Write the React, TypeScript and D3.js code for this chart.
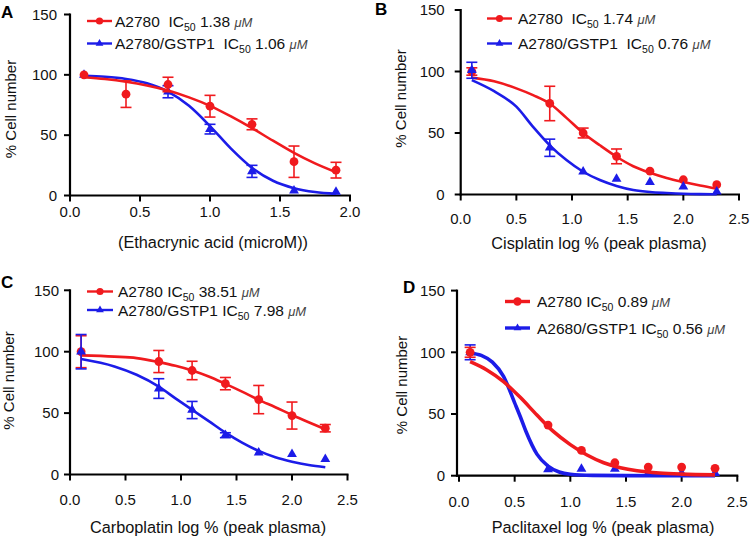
import React from "react";
import * as d3 from "d3";

const RED = "#f01a1e";
const BLUE = "#1c1ce8";
const FONT = "'Liberation Sans', Arial, Helvetica, sans-serif";

// ---------- Shared ticks ----------
const yTicks = [0, 50, 100, 150];
const xTicksA = [0, 0.5, 1, 1.5, 2];
const xTicksBCD = [0, 0.5, 1, 1.5, 2, 2.5];

// ---------- Panel A: Ethacrynic acid ----------
const aRedX = [0.1, 0.4, 0.7, 1.0, 1.3, 1.6, 1.9];
const aRedY = [100, 84, 92, 74, 59, 28, 21];
const aRedErr = [0, 11, 6, 9, 4.5, 13, 6.5];
const aBlueX = [0.1, 0.7, 1.0, 1.3, 1.6, 1.9];
const aBlueY = [100, 86, 55, 20, 4, 3];
const aBlueErr = [0, 5, 4, 5, 0, 0];
const aFitX = [0.1, 0.25, 0.4, 0.55, 0.7, 0.85, 1.0, 1.15, 1.3, 1.45, 1.6, 1.75, 1.9];
const aFitRed = [98, 96.5, 94.3, 91.2, 87, 81.3, 74.3, 65.5, 55.8, 45.4, 35.3, 26.6, 19.3];
const aFitBlue = [99.2, 98.4, 96.6, 93, 86.1, 74.3, 57.5, 38.8, 22.9, 12.2, 6.1, 2.9, 1.4];

// ---------- Panel B: Cisplatin ----------
const doseX = [0.1, 0.8, 1.1, 1.4, 1.7, 2.0, 2.3];
const bRedY = [100, 74, 50, 31, 19, 12, 8];
const bRedErr = [3, 14, 4, 6, 0, 0, 0];
const bBlueY = [101, 38, 18.5, 12.6, 10, 6.3, 2.3];
const bBlueErr = [6.5, 7, 0, 0, 0, 0, 0];
const bFitX = [0.1, 0.3, 0.5, 0.65, 0.8, 0.95, 1.1, 1.25, 1.4, 1.55, 1.7, 1.85, 2.0, 2.15, 2.3];
const bFitRed = [95, 92, 86.3, 80.8, 74, 62.3, 50, 40, 30.7, 23, 17.7, 13.5, 10.2, 7.3, 4.8];
const bFitBlue = [93, 84, 71.4, 55, 40, 28, 18.5, 11.8, 7, 3.7, 2, 1.2, 0.6, 0.3, 0.2];

// ---------- Panel C: Carboplatin ----------
const cRedY = [100, 92, 84.7, 74, 61, 48, 37.7];
const cRedErr = [13, 9, 7.5, 5, 11.5, 11, 3];
const cBlueY = [100, 70, 52.5, 32, 17.8, 16.5, 12.4];
const cBlueErr = [14, 8, 7, 2, 0, 0, 0];
const cFitX = [0.1, 0.4, 0.6, 0.8, 0.95, 1.1, 1.25, 1.4, 1.55, 1.7, 1.85, 2.0, 2.15, 2.3];
const cFitRed = [97, 96, 94.8, 91.5, 88.5, 84.7, 79.8, 73.8, 67.5, 60.8, 54.8, 48.5, 42.6, 36.9];
const cFitBlue = [94, 88, 81.2, 71.6, 62, 52.7, 43.5, 34.1, 26, 19.2, 14, 10.4, 7.7, 5.9];

// ---------- Panel D: Paclitaxel ----------
const dRedY = [100, 41, 20.5, 10.5, 7, 7, 6];
const dRedErr = [4, 0, 0, 0, 0, 0, 0];
const dBlueY = [100, 5, 5.5, 5.5, 2, 2, 2];
const dBlueErr = [6, 0, 0, 0, 0, 0, 0];
const dFitRedX = [0.1, 0.25, 0.4, 0.55, 0.7, 0.85, 1.0, 1.15, 1.3, 1.45, 1.6, 1.8, 2.0, 2.3];
const dFitRed = [92.4, 85.7, 76.2, 63.5, 49.2, 35.7, 25.2, 16.8, 10.5, 6.5, 4, 2.2, 1.3, 0.7];
const dFitBlueX = [0.1, 0.2, 0.3, 0.4, 0.5, 0.55, 0.6, 0.7, 0.8, 0.9, 1.0, 1.2, 1.5, 2.3];
const dFitBlue = [99.5, 97.5, 92, 80.5, 59, 48, 36.2, 17.5, 7.8, 3, 1.2, 0.3, 0.05, 0];

// ---------- Labels ----------
const panelLetters = ["A", "B", "C", "D"];
const xTitles = [
  "(Ethacrynic acid (microM))",
  "Cisplatin log % (peak plasma)",
  "Carboplatin log % (peak plasma)",
  "Paclitaxel log % (peak plasma)",
];
const yTitle = "% Cell number";
const redNames = ["A2780  IC", "A2780  IC", "A2780 IC", "A2780 IC"];
const blueNames = ["A2780/GSTP1  IC", "A2780/GSTP1  IC", "A2780/GSTP1 IC", "A2680/GSTP1 IC"];
const redIC50 = ["1.38", "1.74", "38.51", "0.89"];
const blueIC50 = ["1.06", "0.76", "7.98", "0.56"];

type Series = { x: number[]; y: number[]; err: number[]; fx: number[]; fy: number[] };

type Layout = {
  x0: number; x1: number; xMax: number; y0: number; y150: number;
  axisX: number; xTicks: number[]; xLabDy: number; yLabGap: number;
  titleX: number; titleY: number; yTitleX: number; yTitleY: number;
  letterX: number; letterY: number;
  legX1: number; legX2: number; legY1: number; legY2: number; legTextX: number;
  curveW: number; legW: number; legR: number; blueOnTop: boolean;
};

const layouts: Layout[] = [
  { x0: 70, x1: 350, xMax: 2, y0: 195.5, y150: 14.5, axisX: 70, xTicks: xTicksA, xLabDy: 21.5, yLabGap: 13,
    titleX: 213, titleY: 248, yTitleX: 10, yTitleY: 109, letterX: 1, letterY: 18,
    legX1: 87, legX2: 112, legY1: 21, legY2: 43.5, legTextX: 115, curveW: 2.6, legW: 2.4, legR: 3.6, blueOnTop: false },
  { x0: 460.7, x1: 739, xMax: 2.5, y0: 194.5, y150: 10, axisX: 460.7, xTicks: xTicksBCD, xLabDy: 29, yLabGap: 16,
    titleX: 599, titleY: 248.5, yTitleX: 400, yTitleY: 98.5, letterX: 375, letterY: 15,
    legX1: 487, legX2: 512, legY1: 18.5, legY2: 43.5, legTextX: 518, curveW: 2.6, legW: 2.4, legR: 3.6, blueOnTop: true },
  { x0: 70, x1: 347.5, xMax: 2.5, y0: 474.5, y150: 290.3, axisX: 70, xTicks: xTicksBCD, xLabDy: 30, yLabGap: 11,
    titleX: 208, titleY: 533, yTitleX: 8.5, yTitleY: 380.5, letterX: 1, letterY: 288,
    legX1: 87, legX2: 113, legY1: 291.5, legY2: 310, legTextX: 118, curveW: 2.6, legW: 2.4, legR: 3.6, blueOnTop: true },
  { x0: 459, x1: 737.3, xMax: 2.5, y0: 475.7, y150: 290.6, axisX: 457, xTicks: xTicksBCD, xLabDy: 31, yLabGap: 12,
    titleX: 603, titleY: 533, yTitleX: 401.5, yTitleY: 385, letterX: 403, letterY: 293,
    legX1: 505, legX2: 530, legY1: 301.5, legY2: 328, legTextX: 537, curveW: 3.6, legW: 3.4, legR: 4.2, blueOnTop: false },
];

const redSeries: Series[] = [
  { x: aRedX, y: aRedY, err: aRedErr, fx: aFitX, fy: aFitRed },
  { x: doseX, y: bRedY, err: bRedErr, fx: bFitX, fy: bFitRed },
  { x: doseX, y: cRedY, err: cRedErr, fx: cFitX, fy: cFitRed },
  { x: doseX, y: dRedY, err: dRedErr, fx: dFitRedX, fy: dFitRed },
];
const blueSeries: Series[] = [
  { x: aBlueX, y: aBlueY, err: aBlueErr, fx: aFitX, fy: aFitBlue },
  { x: doseX, y: bBlueY, err: bBlueErr, fx: bFitX, fy: bFitBlue },
  { x: doseX, y: cBlueY, err: cBlueErr, fx: cFitX, fy: cFitBlue },
  { x: doseX, y: dBlueY, err: dBlueErr, fx: dFitBlueX, fy: dFitBlue },
];

const triPath = d3.symbol().type(d3.symbolTriangle).size(42)() as string;
const triSmall = d3.symbol().type(d3.symbolTriangle).size(26)() as string;

function SeriesMarks({ s, color, tri, xs, ys, lw }: { s: Series; color: string; tri: boolean; xs: d3.ScaleLinear<number, number>; ys: d3.ScaleLinear<number, number>; lw: number }) {
  const line = d3
    .line<number>()
    .x((_, i) => xs(s.fx[i]))
    .y((d) => ys(d))
    .curve(d3.curveMonotoneX);
  return (
    <g>
      <path d={line(s.fy) || ""} fill="none" stroke={color} strokeWidth={lw} strokeLinejoin="round" />
      {s.x.map((x, i) => {
        const cx = xs(x);
        const cy = ys(s.y[i]);
        const e = s.err[i];
        return (
          <g key={i}>
            {e > 0 && (
              <g stroke={color} strokeWidth={1.6}>
                <line x1={cx} x2={cx} y1={ys(s.y[i] + e)} y2={ys(s.y[i] - e)} />
                <line x1={cx - 5.5} x2={cx + 5.5} y1={ys(s.y[i] + e)} y2={ys(s.y[i] + e)} />
                <line x1={cx - 5.5} x2={cx + 5.5} y1={ys(s.y[i] - e)} y2={ys(s.y[i] - e)} />
              </g>
            )}
            {tri ? (
              <path d={triPath} transform={`translate(${cx},${cy})`} fill={color} />
            ) : (
              <circle cx={cx} cy={cy} r={4.4} fill={color} />
            )}
          </g>
        );
      })}
    </g>
  );
}

function LegendText({ x, y, name, ic }: { x: number; y: number; name: string; ic: string }) {
  return (
    <text x={x} y={y + 5.5} fontSize={15.5} fontFamily={FONT} fill="#111" style={{ whiteSpace: "pre" }}>
      <tspan>{name}</tspan>
      <tspan fontSize={10.5} dy={4}>50</tspan>
      <tspan dy={-4}>{" " + ic + " "}</tspan>
      <tspan fontStyle="italic" fontSize={13} fill="#444">μM</tspan>
    </text>
  );
}

function Panel({ idx }: { idx: number }) {
  const L = layouts[idx];
  const xs = d3.scaleLinear().domain([0, L.xMax]).range([L.x0, L.x1]);
  const ys = d3.scaleLinear().domain([0, 150]).range([L.y0, L.y150]);
  const red = redSeries[idx];
  const blue = blueSeries[idx];
  const redMarks = <SeriesMarks s={red} color={RED} tri={false} xs={xs} ys={ys} lw={L.curveW} />;
  const blueMarks = <SeriesMarks s={blue} color={BLUE} tri={true} xs={xs} ys={ys} lw={L.curveW} />;
  return (
    <g fontFamily={FONT}>
      <text x={L.letterX} y={L.letterY} fontSize={17} fontWeight="bold" fill="#000">{panelLetters[idx]}</text>
      {/* y axis */}
      <line x1={L.axisX} x2={L.axisX} y1={ys(150) - 1} y2={ys(0) + 1} stroke="#000" strokeWidth={2.2} />
      {yTicks.map((t) => (
        <g key={t}>
          <line x1={L.axisX - 6} x2={L.axisX} y1={ys(t)} y2={ys(t)} stroke="#000" strokeWidth={2} />
          <text x={L.axisX - L.yLabGap} y={ys(t) + 5.3} fontSize={15} textAnchor="end" fill="#111">{t}</text>
        </g>
      ))}
      {/* x axis */}
      <line x1={L.axisX - 1} x2={xs(L.xMax) + 1} y1={ys(0)} y2={ys(0)} stroke="#000" strokeWidth={2.2} />
      {L.xTicks.map((t) => (
        <g key={t}>
          <line x1={xs(t)} x2={xs(t)} y1={ys(0)} y2={ys(0) + 6} stroke="#000" strokeWidth={2} />
          <text x={xs(t)} y={ys(0) + L.xLabDy} fontSize={15} textAnchor="middle" fill="#111">{d3.format(".1f")(t)}</text>
        </g>
      ))}
      <text x={L.titleX} y={L.titleY} fontSize={16.3} textAnchor="middle" fill="#111">{xTitles[idx]}</text>
      <text transform={`translate(${L.yTitleX + 5.5},${L.yTitleY}) rotate(-90)`} fontSize={15} textAnchor="middle" fill="#111">{yTitle}</text>
      {/* data */}
      {L.blueOnTop ? (<>{redMarks}{blueMarks}</>) : (<>{blueMarks}{redMarks}</>)}
      {/* legend */}
      <line x1={L.legX1} x2={L.legX2} y1={L.legY1} y2={L.legY1} stroke={RED} strokeWidth={L.legW} />
      <circle cx={(L.legX1 + L.legX2) / 2} cy={L.legY1} r={L.legR} fill={RED} />
      <LegendText x={L.legTextX} y={L.legY1} name={redNames[idx]} ic={redIC50[idx]} />
      <line x1={L.legX1} x2={L.legX2} y1={L.legY2} y2={L.legY2} stroke={BLUE} strokeWidth={L.legW} />
      <path d={triSmall} transform={`translate(${(L.legX1 + L.legX2) / 2},${L.legY2})`} fill={BLUE} />
      <LegendText x={L.legTextX} y={L.legY2} name={blueNames[idx]} ic={blueIC50[idx]} />
    </g>
  );
}

export default function App() {
  return (
    <svg width={751} height={536} viewBox="0 0 751 536" style={{ position: "absolute", left: 0, top: 0, background: "#fff" }}>
      <rect width={751} height={536} fill="#fff" />
      {[0, 1, 2, 3].map((i) => (
        <Panel key={i} idx={i} />
      ))}
    </svg>
  );
}
